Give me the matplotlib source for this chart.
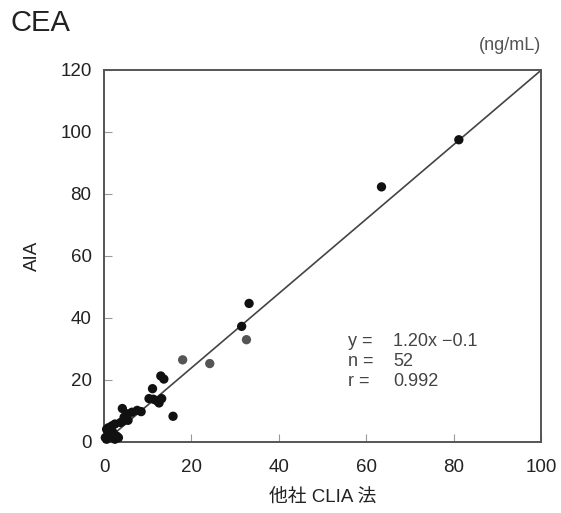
import matplotlib
matplotlib.use("Agg")
import matplotlib.pyplot as plt
import numpy as np

# data
x_black = [81.2, 63.5, 33.2, 31.5, 15.8, 13.0, 13.7, 11.1, 11.3, 12.1, 12.6, 13.2, 10.3,
           4.2, 5.3, 6.4, 7.6, 8.5, 4.6, 5.5, 3.8, 4.4, 2.5, 1.8, 1.0, 0.6, 1.4, 2.1,
           1.0, 0.3, 2.9, 3.3, 0.6, 2.5]
y_black = [97.5, 82.3, 44.7, 37.3, 8.3, 21.3, 20.3, 17.2, 13.8, 13.3, 12.6, 14.0, 14.0,
           10.8, 9.1, 9.6, 10.2, 9.8, 8.0, 7.0, 6.3, 6.8, 5.8, 5.2, 4.6, 4.1, 3.6, 3.0,
           1.9, 1.4, 1.9, 1.4, 0.9, 0.9]
x_gray = [18.0, 24.2, 32.6]
y_gray = [26.5, 25.3, 33.0]
slope, intercept = 1.20, -0.1
x_ticks = [0, 20, 40, 60, 80, 100]
y_ticks = [0, 20, 40, 60, 80, 100, 120]

lat = ['Liberation Sans', 'Noto Sans CJK JP', 'DejaVu Sans']
plt.rcParams['font.family'] = lat

fig = plt.figure(figsize=(5.61, 5.13), dpi=100)
ax = fig.add_axes([104/561, 1-442/513, (541-104)/561, (442-70)/513])
ax.set_xlim(0, 100)
ax.set_ylim(0, 120)

xl = np.array([0, 100])
ax.plot(xl, slope*xl + intercept, color='#444444', lw=1.2, zorder=2)
ax.scatter(x_black, y_black, s=45, color='#111111', edgecolors='none', zorder=3, clip_on=False)
ax.scatter(x_gray, y_gray, s=45, color='#555555', edgecolors='none', zorder=3, clip_on=False)

ax.set_xticks(x_ticks)
ax.set_yticks(y_ticks)
ax.tick_params(direction='in', length=6, width=0.8, color='#999999', labelsize=13.5,
               labelcolor='#222222')
ax.tick_params(axis='x', pad=12)
ax.tick_params(axis='y', pad=9)
for s in ax.spines.values():
    s.set_color('#555555')
    s.set_linewidth(1.4)

ax.set_xlabel('他社 CLIA 法', fontsize=13.5, color='#222222', labelpad=9)
ax.set_ylabel('AIA', fontsize=13.5, color='#222222', labelpad=14)

fig.text(10/561, 1-23/513, 'CEA', fontsize=21, color='#222222', va='center', ha='left')
fig.text(541/561, 1-45/513, '(ng/mL)', fontsize=13, color='#555555', va='center', ha='right')

rows = [('y =', '1.20x \u22120.1'), ('n =', '52'), ('r =', '0.992')]
for i, (a, b) in enumerate(rows):
    yp = 1 - (342 + 20*i)/513
    fig.text(348/561, yp, a, fontsize=13, color='#444444', va='center', ha='left')
    fig.text(393/561, yp, b, fontsize=13, color='#444444', va='center', ha='left')

fig.savefig('out.png', dpi=100)
